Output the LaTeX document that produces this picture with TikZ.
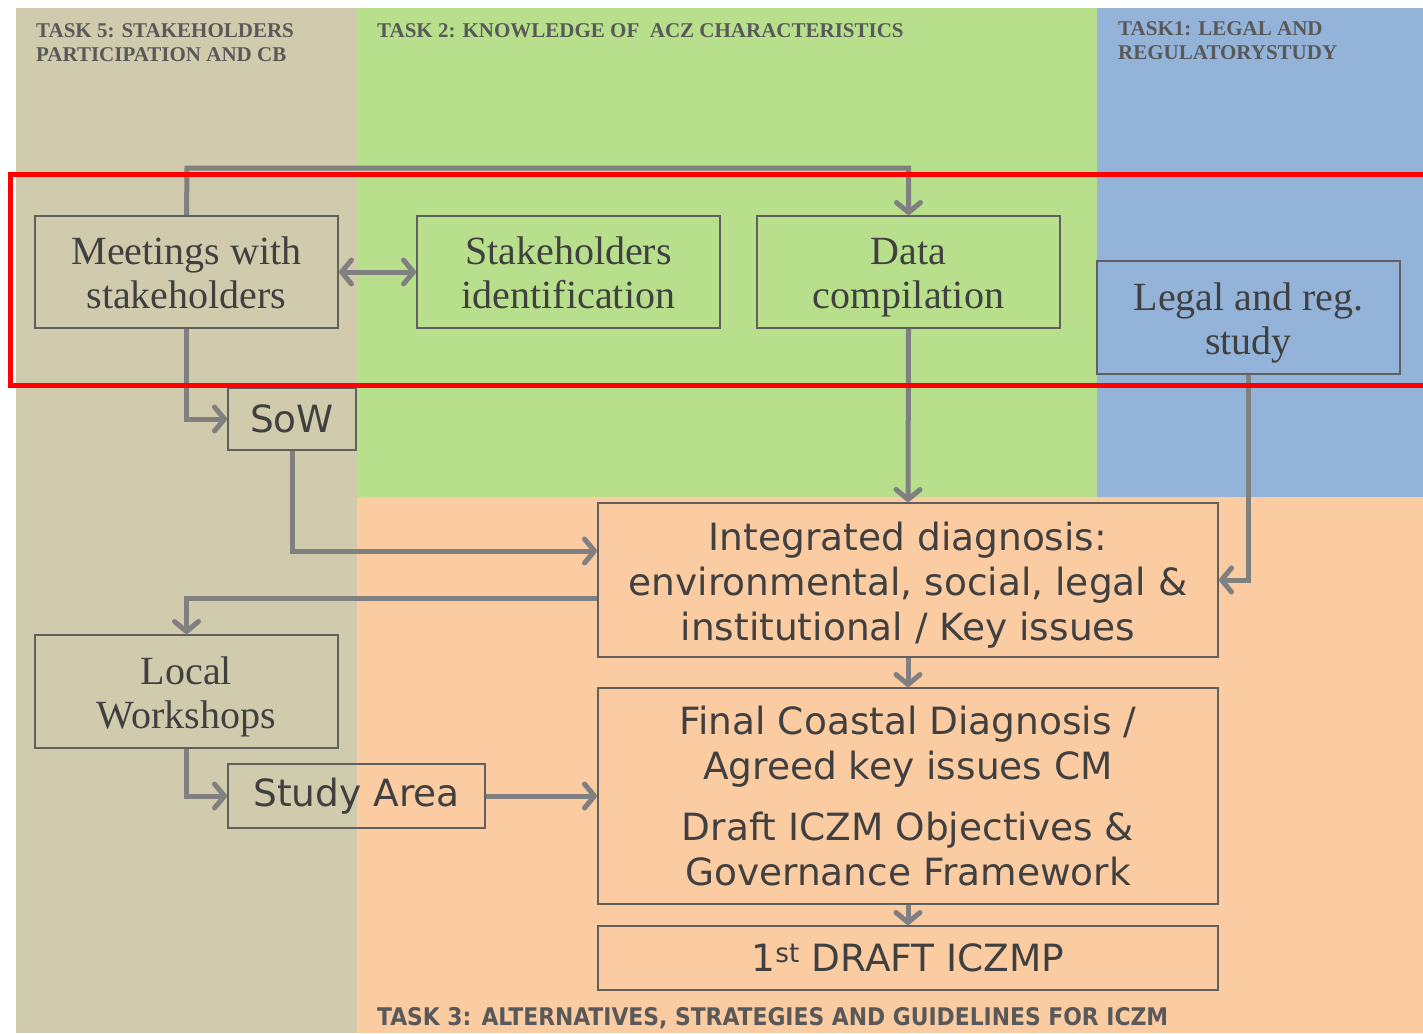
\documentclass[tikz,border=0pt]{standalone}
\usepackage{fontspec}
\setmainfont{Liberation Serif}
\newfontfamily\boxsans{DejaVu Sans}
\newfontfamily\condsans{DejaVu Sans Condensed}
\usetikzlibrary{arrows.meta,positioning}
\definecolor{tanbg}{HTML}{D0CBAD}
\definecolor{greenbg}{HTML}{B8DF8C}
\definecolor{bluebg}{HTML}{94B3D9}
\definecolor{peachbg}{HTML}{FBCBA2}
\definecolor{txt}{HTML}{404040}
\definecolor{hdr}{HTML}{595959}
\definecolor{frame}{HTML}{606060}
\definecolor{arrgray}{HTML}{808080}
\tikzset{
  box/.style={draw=frame, line width=2pt, inner sep=0pt, align=center, text=txt},
  seriftext/.style={inner sep=0pt, align=center, text=txt, yshift=-6pt, font=\fontsize{40}{44}\selectfont},
  serifbox/.style={box, minimum width=303pt, label={[seriftext]center:{\strut #1\strut}}},
  sansbox/.style={box, font=\boxsans\fontsize{37.5}{45}\selectfont},
  sanstext/.style={inner sep=0pt, align=center, text=txt, yshift=-5pt, font=\boxsans\fontsize{37.5}{45}\selectfont},
  conn/.style={draw=arrgray, line width=5pt},
  arr/.style={conn, -{Straight Barb[length=10pt,width=24pt,line cap=round,line join=round]}},
  dblarr/.style={conn, {Straight Barb[length=10pt,width=24pt,line cap=round,line join=round]}-{Straight Barb[length=10pt,width=24pt,line cap=round,line join=round]}},
  hdrtext/.style={anchor=north west, inner sep=0pt, align=left, text=hdr, font=\bfseries\fontsize{21}{24}\selectfont}
}
\begin{document}
\begin{tikzpicture}[x=1pt,y=-1pt]
\useasboundingbox (0,0) rectangle (1423,1033);
% backgrounds
\fill[white] (0,0) rectangle (1423,1033);
\fill[tanbg] (16,8) rectangle (357,1033);
\fill[greenbg] (357,8) rectangle (1097,497);
\fill[bluebg] (1097,8) rectangle (1423,497);
\fill[peachbg] (357,497) rectangle (1423,1033);
% headers
\node[hdrtext] (h5) at (36,23) {TASK 5: STAKEHOLDERS\\PARTICIPATION AND CB};
\node[hdrtext] (h2) at (377,23) {TASK 2: KNOWLEDGE OF\ \ ACZ CHARACTERISTICS};
\node[hdrtext] (h1) at (1118,21) {TASK1: LEGAL AND\\REGULATORYSTUDY};
\node[anchor=west, inner sep=0pt, text=hdr] (h3) at (377,1018) {\resizebox{791pt}{!}{\condsans\bfseries TASK 3: ALTERNATIVES, STRATEGIES AND GUIDELINES FOR ICZM}};
% boxes
\node[serifbox={Meetings with\\stakeholders}, minimum height=112pt] (meet) at (186.5,272) {};
\node[serifbox={Stakeholders\\identification}, minimum height=112pt] (sid) at (568.5,272) {};
\node[serifbox={Data\\compilation}, minimum height=112pt] (data) at (908.5,272) {};
\node[serifbox={Legal and reg.\\study}, minimum height=113pt] (legal) at (1248.5,317.5) {};
\node[serifbox={Local\\Workshops}, minimum height=113pt] (local) at (186.5,691.5) {};
\node[sansbox, minimum width=128pt, minimum height=62pt] (sow) at (292,419) {SoW};
\node[sansbox, minimum width=257pt, minimum height=64pt] (study) at (356.5,796) {Study Area};
\node[box, minimum width=620pt, minimum height=154pt, label={[sanstext]center:{Integrated diagnosis:\\environmental, social, legal \&\\institutional / Key issues}}] (integ) at (908,580) {};
\node[sansbox, minimum width=620pt, minimum height=216pt] (final) at (908,796) {Final Coastal Diagnosis /\\Agreed key issues CM\\[16pt]Draft ICZM Objectives \&\\Governance Framework};
\node[sansbox, minimum width=620pt, minimum height=64pt] (draft) at (908,958) {1\textsuperscript{st} DRAFT ICZMP};
% connectors
\coordinate (topbend) at (187,168);
\draw[arr] (meet.north) -- (topbend) -| (data.north);
\draw[dblarr] (meet.east) -- (sid.west);
\draw[arr] (meet.south) |- (sow.west);
\draw[arr] (data.south) -- (integ.north);
\draw[arr] (legal.south) |- (integ.east);
\draw[arr] (sow.south) |- ([yshift=29pt]integ.west);
\draw[arr] ([yshift=-18pt]integ.west) -| (local.north);
\draw[arr] (local.south) |- (study.west);
\draw[arr] (study.east) -- (final.west);
\draw[arr] (integ.south) -- (final.north);
\draw[arr] (final.south) -- (draft.north);
% highlight frame
\draw[red, line width=5pt] (10,174) rectangle (1430,385);
\end{tikzpicture}
\end{document}
